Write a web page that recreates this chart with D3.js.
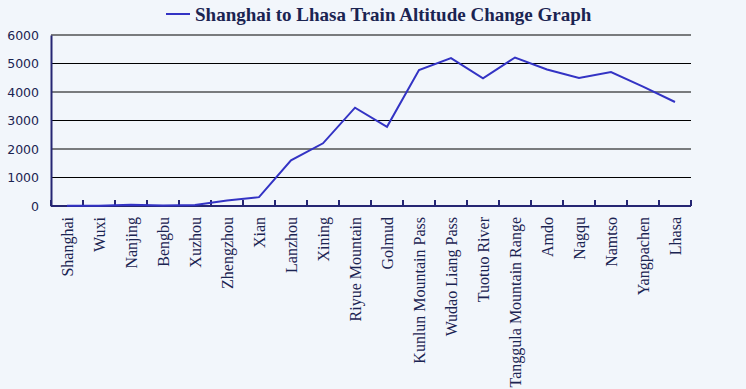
<!DOCTYPE html>
<html lang="en">
<head>
<meta charset="UTF-8">
<title>Shanghai to Lhasa Train Altitude Change Graph</title>
<script src="https://d3js.org/d3.v7.min.js"></script>
<style>
  body { margin: 0; background: #f2f6fb; }
</style>
</head>
<body>
<div id="chart"></div>
<script>
// stations along the line and altitude (m)
var stations = ["Shanghai", "Wuxi", "Nanjing", "Bengbu", "Xuzhou", "Zhengzhou", "Xian",
  "Lanzhou", "Xining", "Riyue Mountain", "Golmud", "Kunlun Mountain Pass", "Wudao Liang Pass",
  "Tuotuo River", "Tanggula Mountain Range", "Amdo", "Nagqu", "Namtso", "Yangpachen", "Lhasa"];
var altitude = [5, 5, 40, 20, 35, 190, 310, 1600, 2200, 3450, 2780, 4770, 5190, 4480,
  5210, 4790, 4490, 4700, 4190, 3650];
var yTicks = [0, 1000, 2000, 3000, 4000, 5000, 6000];
var seriesName = "Shanghai to Lhasa Train Altitude Change Graph";

var W = 746, H = 389;
var margin = {top: 35, right: 55, bottom: 183, left: 51};
var width = W - margin.left - margin.right,
    height = H - margin.top - margin.bottom;

var navy = "#262673", lineColor = "#3333c4", textColor = "#1b2452";

var svg = d3.select("#chart").append("svg")
    .attr("width", W).attr("height", H);

var g = svg.append("g")
    .attr("transform", "translate(" + margin.left + "," + margin.top + ")");

var x = d3.scaleBand().domain(stations).range([0, width]);
var y = d3.scaleLinear().domain([0, 6000]).range([height, 0]);

// horizontal grid
g.append("g")
  .selectAll("line")
  .data(yTicks.filter(function(d) { return d > 0; }))
  .enter().append("line")
    .attr("x1", 0).attr("x2", width)
    .attr("y1", function(d) { return y(d); })
    .attr("y2", function(d) { return y(d); })
    .attr("stroke", "#000").attr("stroke-width", 1.2);

// y axis
var yAxis = g.append("g")
    .call(d3.axisLeft(y).tickValues(yTicks).tickFormat(d3.format("d"))
      .tickSize(0).tickPadding(12));
yAxis.select(".domain").attr("stroke", navy).attr("stroke-width", 2);
yAxis.selectAll("text")
    .attr("fill", textColor)
    .style("font-family", "'DejaVu Sans', sans-serif")
    .style("font-size", "12.5px");

// x axis, ticks between categories
var xAxis = g.append("g")
    .attr("transform", "translate(0," + height + ")");
xAxis.append("line")
    .attr("x1", 0).attr("x2", width)
    .attr("stroke", navy).attr("stroke-width", 2);
xAxis.selectAll(".tk")
  .data(stations.concat(["end"]))
  .enter().append("line")
    .attr("class", "tk")
    .attr("x1", function(d, i) { return i * x.bandwidth(); })
    .attr("x2", function(d, i) { return i * x.bandwidth(); })
    .attr("y1", -6).attr("y2", 0)
    .attr("stroke", navy).attr("stroke-width", 2);

xAxis.selectAll("text")
  .data(stations)
  .enter().append("text")
    .attr("transform", function(d) {
      return "translate(" + (x(d) + x.bandwidth() / 2) + ",11) rotate(-90)";
    })
    .attr("dy", "0.35em")
    .attr("text-anchor", "end")
    .attr("fill", textColor)
    .style("font-family", "'Liberation Serif', serif")
    .style("font-size", "16px")
    .text(function(d) { return d; });

// altitude line
var line = d3.line()
    .x(function(d, i) { return x(stations[i]) + x.bandwidth() / 2; })
    .y(function(d) { return y(d); });

g.append("path")
    .datum(altitude)
    .attr("d", line)
    .attr("fill", "none")
    .attr("stroke", lineColor)
    .attr("stroke-width", 2);

// legend / title
var legend = svg.append("g").attr("transform", "translate(166,14)");
legend.append("line")
    .attr("x1", 0).attr("x2", 24)
    .attr("stroke", lineColor).attr("stroke-width", 2);
legend.append("text")
    .attr("x", 29).attr("dy", "0.35em")
    .attr("fill", textColor)
    .style("font-family", "'Liberation Serif', serif")
    .style("font-weight", "bold")
    .style("font-size", "19px")
    .text(seriesName);
</script>
</body>
</html>
